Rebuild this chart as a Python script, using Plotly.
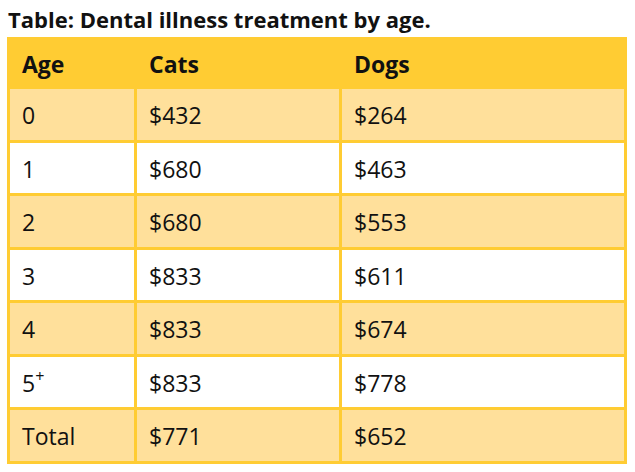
import plotly.graph_objects as go

title = "Table: Dental illness treatment by age."
headers = ["Age", "Cats", "Dogs"]
ages = ["0", "1", "2", "3", "4", "5<sup>+</sup>", "Total"]
cats = ["$432", "$680", "$680", "$833", "$833", "$833", "$771"]
dogs = ["$264", "$463", "$553", "$611", "$674", "$778", "$652"]

YELLOW = "#FFCC33"
LIGHT = "#FFE09B"
WHITE = "#FFFFFF"
FONT = "Open Sans"
TXT = "#111111"

BASE_CELL = 12    # small base font: an empty first line pushes the text down
BASE_HEAD = 11.4
BIG = 23

W, H = 635, 472


def cell(t, bold=False):
    inner = f"<b>{t}</b>" if bold else t
    return f" <br><span style='font-size:{BIG}px'> {inner}</span>"


row_fill = [LIGHT if i % 2 == 0 else WHITE for i in range(len(ages))]

fig = go.Figure(go.Table(
    domain=dict(x=[8 / W, 625 / W], y=[0, 1 - 38 / H]),
    columnwidth=[127, 205, 285],
    header=dict(
        values=[cell(h, bold=True) for h in headers],
        fill_color=YELLOW,
        line=dict(color=YELLOW, width=3),
        align="left",
        font=dict(family=FONT, size=BASE_HEAD, color=TXT),
        height=47,
    ),
    cells=dict(
        values=[[cell(a) for a in ages], [cell(c) for c in cats], [cell(d) for d in dogs]],
        fill_color=[row_fill] * 3,
        line=dict(color=YELLOW, width=3),
        align="left",
        font=dict(family=FONT, size=BASE_CELL, color=TXT),
        height=53.5,
    ),
))

fig.update_layout(
    width=W, height=H,
    margin=dict(l=0, r=0, t=0, b=0),
    paper_bgcolor="white",
    title=dict(text=f"<b>{title}</b>", x=8 / W, xanchor="left", xref="container",
               y=1 - 20 / H, yanchor="middle", yref="container",
               font=dict(family=FONT, size=22, color=TXT)),
)

fig.write_html("out.html", config={"displayModeBar": False},
               post_script="document.body.style.margin='0';")
